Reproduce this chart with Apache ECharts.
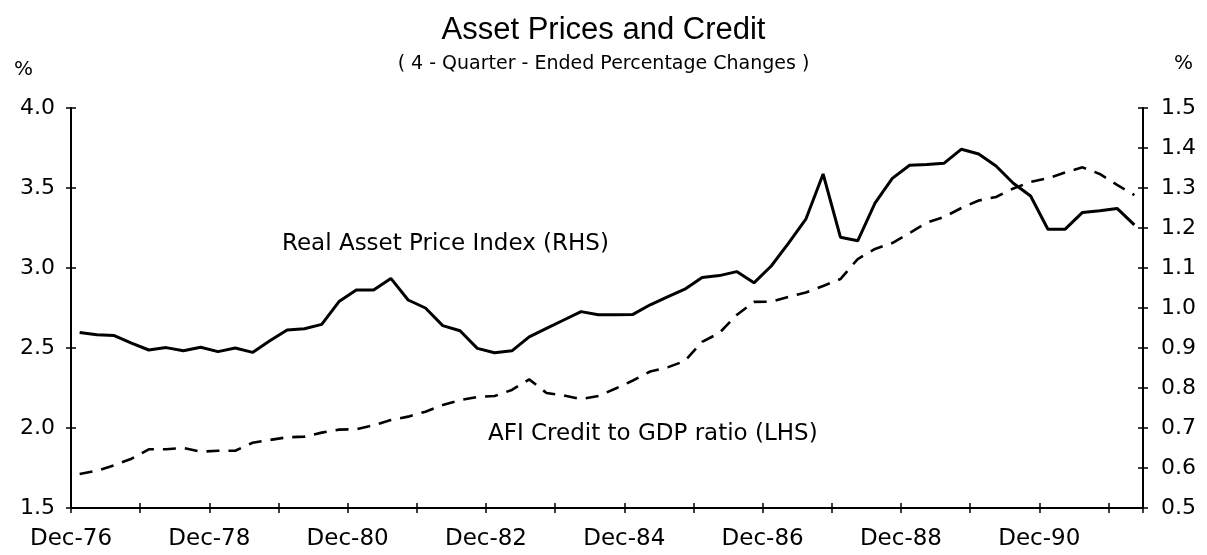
<!DOCTYPE html>
<html>
<head>
<meta charset="utf-8">
<script src="https://cdn.jsdelivr.net/npm/echarts@6/dist/echarts.min.js"></script>
<style>
  html, body { margin: 0; padding: 0; background: #fff; }
  #chart { width: 1207px; height: 555px; }
</style>
</head>
<body>
<div id="chart"></div>
<script>
// quarters plotted (one point per quarter, Mar-77 .. Jun-92)
const quarters = [
  "Mar-77", "Jun-77", "Sep-77", "Dec-77", "Mar-78", "Jun-78", "Sep-78", "Dec-78",
  "Mar-79", "Jun-79", "Sep-79", "Dec-79", "Mar-80", "Jun-80", "Sep-80", "Dec-80",
  "Mar-81", "Jun-81", "Sep-81", "Dec-81", "Mar-82", "Jun-82", "Sep-82", "Dec-82",
  "Mar-83", "Jun-83", "Sep-83", "Dec-83", "Mar-84", "Jun-84", "Sep-84", "Dec-84",
  "Mar-85", "Jun-85", "Sep-85", "Dec-85", "Mar-86", "Jun-86", "Sep-86", "Dec-86",
  "Mar-87", "Jun-87", "Sep-87", "Dec-87", "Mar-88", "Jun-88", "Sep-88", "Dec-88",
  "Mar-89", "Jun-89", "Sep-89", "Dec-89", "Mar-90", "Jun-90", "Sep-90", "Dec-90",
  "Mar-91", "Jun-91", "Sep-91", "Dec-91", "Mar-92", "Jun-92"
];

// x axis labels, one every 2 years
const tickLabels = ["Dec-76", "Dec-78", "Dec-80", "Dec-82", "Dec-84", "Dec-86", "Dec-88", "Dec-90"];

// Real Asset Price Index (RHS)
const realAssetPrice = [
  0.939, 0.933, 0.931, 0.912, 0.895, 0.901, 0.893, 0.902, 0.891, 0.900,
  0.889, 0.918, 0.945, 0.948, 0.959, 1.016, 1.045, 1.045, 1.074, 1.020,
  1.000, 0.956, 0.943, 0.899, 0.888, 0.893, 0.928, 0.949, 0.970, 0.991,
  0.983, 0.983, 0.984, 1.008, 1.028, 1.047, 1.076, 1.081, 1.091, 1.063,
  1.105, 1.162, 1.222, 1.335, 1.177, 1.168, 1.262, 1.324, 1.357, 1.359,
  1.362, 1.397, 1.385, 1.355, 1.312, 1.280, 1.197, 1.197, 1.239, 1.243,
  1.249, 1.208
];

// AFI Credit to GDP ratio (LHS)
const afiCredit = [
  1.713, 1.733, 1.767, 1.808, 1.867, 1.867, 1.875, 1.852, 1.858, 1.858,
  1.908, 1.925, 1.942, 1.946, 1.971, 1.990, 1.992, 2.017, 2.050, 2.071,
  2.102, 2.144, 2.174, 2.194, 2.200, 2.238, 2.304, 2.219, 2.203, 2.181,
  2.200, 2.247, 2.297, 2.353, 2.379, 2.419, 2.538, 2.594, 2.706, 2.788,
  2.789, 2.819, 2.847, 2.888, 2.931, 3.056, 3.119, 3.156, 3.219, 3.284,
  3.319, 3.375, 3.422, 3.444, 3.497, 3.538, 3.561, 3.597, 3.629, 3.588,
  3.519, 3.456
];

const chart = echarts.init(document.getElementById("chart"));
const font = "DejaVu Sans";
const axisLine = { show: true, lineStyle: { color: "#000", width: 2 } };
const tickStyle = { color: "#000", width: 1.5 };

const option = {
  animation: false,
  backgroundColor: "#fff",
  title: {
    text: "Asset Prices and Credit",
    subtext: "( 4 - Quarter - Ended Percentage Changes )",
    left: "center",
    top: 10,
    itemGap: 9,
    textStyle: { fontFamily: "Liberation Sans", fontSize: 31, fontWeight: "normal", color: "#000" },
    subtextStyle: { fontFamily: font, fontSize: 19, color: "#000" }
  },
  grid: { left: 71, right: 64, top: 108, bottom: 47 },
  xAxis: [
    {
      // data axis, ticks below the line
      type: "category",
      data: quarters,
      boundaryGap: true,
      axisLine: axisLine,
      axisTick: { show: true, interval: 3, length: 5, lineStyle: tickStyle },
      axisLabel: { show: false },
      splitLine: { show: false }
    },
    {
      // label axis + ticks above the line
      type: "value",
      min: 0,
      max: 62,
      interval: 4,
      position: "bottom",
      axisLine: { show: false },
      axisTick: { show: true, inside: true, length: 5, lineStyle: tickStyle },
      axisLabel: {
        margin: 20,
        fontFamily: font,
        fontSize: 23,
        color: "#000",
        showMaxLabel: false,
        formatter: function (v) {
          return v % 8 === 0 ? tickLabels[v / 8] : "";
        }
      },
      splitLine: { show: false }
    }
  ],
  yAxis: [
    {
      type: "value",
      position: "left",
      min: 1.5,
      max: 4.0,
      interval: 0.5,
      axisLine: axisLine,
      axisTick: { show: true, length: 5, lineStyle: tickStyle },
      axisLabel: {
        margin: 16, fontFamily: font, fontSize: 22, color: "#000",
        formatter: function (v) { return v.toFixed(1); }
      },
      splitLine: { show: false }
    },
    {
      type: "value",
      position: "right",
      min: 0.5,
      max: 1.5,
      interval: 0.1,
      axisLine: axisLine,
      axisTick: { show: true, length: 5, lineStyle: tickStyle },
      axisLabel: {
        margin: 18, fontFamily: font, fontSize: 22, color: "#000",
        formatter: function (v) { return v.toFixed(1); }
      },
      splitLine: { show: false }
    },
    {
      type: "value",
      position: "left",
      min: 1.5,
      max: 4.0,
      interval: 0.5,
      axisLine: { show: false },
      axisTick: { show: true, inside: true, length: 5, lineStyle: tickStyle },
      axisLabel: { show: false },
      splitLine: { show: false }
    },
    {
      type: "value",
      position: "right",
      min: 0.5,
      max: 1.5,
      interval: 0.1,
      axisLine: { show: false },
      axisTick: { show: true, inside: true, length: 5, lineStyle: tickStyle },
      axisLabel: { show: false },
      splitLine: { show: false }
    }
  ],
  series: [
    {
      name: "Real Asset Price Index (RHS)",
      type: "line",
      xAxisIndex: 0,
      yAxisIndex: 1,
      data: realAssetPrice,
      symbol: "none",
      lineStyle: { color: "#000", width: 3, type: "solid" }
    },
    {
      name: "AFI Credit to GDP ratio (LHS)",
      type: "line",
      xAxisIndex: 0,
      yAxisIndex: 0,
      data: afiCredit,
      symbol: "none",
      lineStyle: { color: "#000", width: 2.6, type: [13, 9] }
    }
  ],
  graphic: [
    { type: "text", left: 14, top: 60, style: { text: "%", fontFamily: font, fontSize: 20, fill: "#000" } },
    { type: "text", left: 1174, top: 54, style: { text: "%", fontFamily: font, fontSize: 20, fill: "#000" } },
    { type: "text", left: 282, top: 233, style: { text: "Real Asset Price Index (RHS)", fontFamily: font, fontSize: 23, fill: "#000" } },
    { type: "text", left: 488, top: 423, style: { text: "AFI Credit to GDP ratio (LHS)", fontFamily: font, fontSize: 23, fill: "#000" } }
  ]
};

chart.setOption(option);
</script>
</body>
</html>
